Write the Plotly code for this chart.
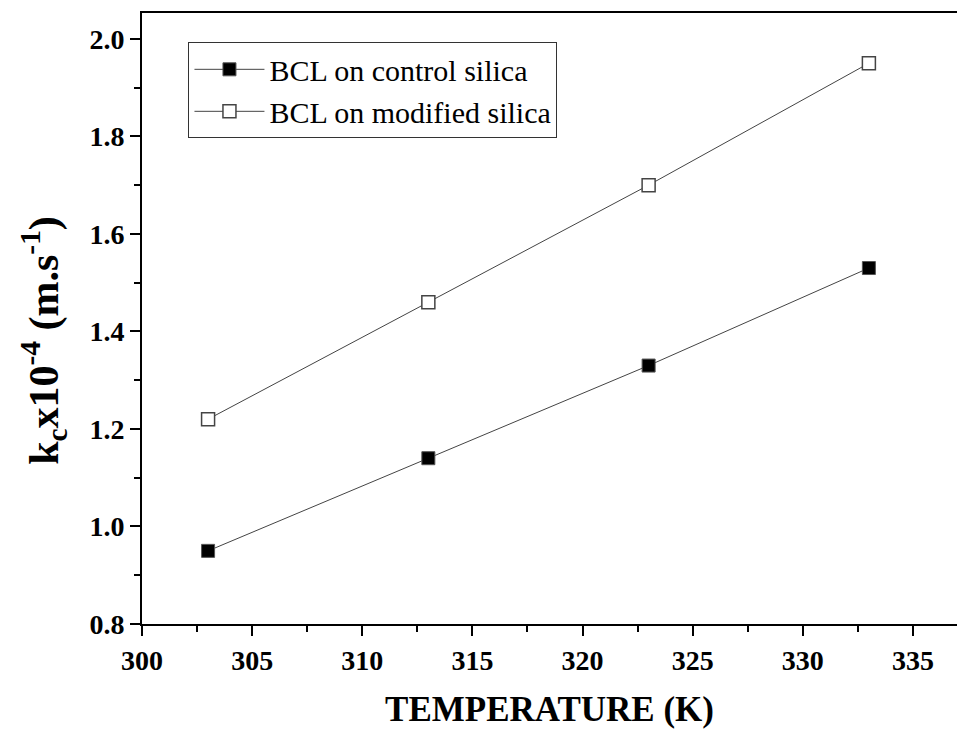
import plotly.graph_objects as go

temperature = [303, 313, 323, 333]
control = [0.95, 1.14, 1.33, 1.53]
modified = [1.22, 1.46, 1.70, 1.95]

x_ticks = [300, 305, 310, 315, 320, 325, 330, 335]
y_ticks = [0.8, 1.0, 1.2, 1.4, 1.6, 1.8, 2.0]

FONT = "Liberation Serif"
TICKFONT = dict(family=FONT, size=28, color="black")

fig = go.Figure()
fig.add_trace(go.Scatter(
    x=temperature, y=control, mode="lines+markers",
    name="BCL on control silica",
    line=dict(color="#444444", width=1),
    marker=dict(symbol="square", size=13, color="black",
                line=dict(color="#555555", width=1)),
))
fig.add_trace(go.Scatter(
    x=temperature, y=modified, mode="lines+markers",
    name="BCL on modified silica",
    line=dict(color="#444444", width=1),
    marker=dict(symbol="square", size=13, color="white",
                line=dict(color="#444444", width=1.5)),
))

fig.update_layout(
    width=957, height=729,
    margin=dict(l=142, r=0, t=13, b=105),
    paper_bgcolor="white", plot_bgcolor="white",
    font=dict(family=FONT, size=28, color="black"),
    showlegend=True,
    legend=dict(
        x=0.057, y=0.952, xanchor="left", yanchor="top",
        bgcolor="white", bordercolor="#333333", borderwidth=1,
        font=dict(family=FONT, size=30, color="black"),
        tracegroupgap=0, itemwidth=70,
    ),
    annotations=[dict(
        text="<b>k<sub>c</sub>x10<sup>-4</sup> (m.s<sup>-1</sup>)</b>",
        xref="paper", yref="paper", x=-0.1215, y=0.465,
        xanchor="center", yanchor="middle", textangle=-90, showarrow=False,
        font=dict(family=FONT, size=42, color="black"),
    )],
    xaxis=dict(
        range=[300, 337], tickmode="array", tickvals=x_ticks,
        ticktext=[f"<b>{v}</b>" for v in x_ticks],
        showline=True, linecolor="black", linewidth=2, mirror=True,
        ticks="outside", ticklen=10, tickwidth=2, tickcolor="black",
        minor=dict(ticks="outside", ticklen=6, tickwidth=2, tickcolor="black", dtick=2.5, tick0=300),
        showgrid=False, zeroline=False,
        tickfont=TICKFONT,
        title=dict(text="<b>TEMPERATURE (K)</b>", font=dict(family=FONT, size=35, color="black"), standoff=24),
    ),
    yaxis=dict(
        range=[0.8, 2.053], tickmode="array", tickvals=y_ticks,
        ticktext=[f"<b>{v:.1f}</b>" for v in y_ticks],
        showline=True, linecolor="black", linewidth=2, mirror=False,
        ticks="outside", ticklen=10, tickwidth=2, tickcolor="black",
        minor=dict(ticks="outside", ticklen=6, tickwidth=2, tickcolor="black", dtick=0.1, tick0=0.8),
        showgrid=False, zeroline=False,
        tickfont=TICKFONT,
    ),
)

fig.write_html("out.html")
